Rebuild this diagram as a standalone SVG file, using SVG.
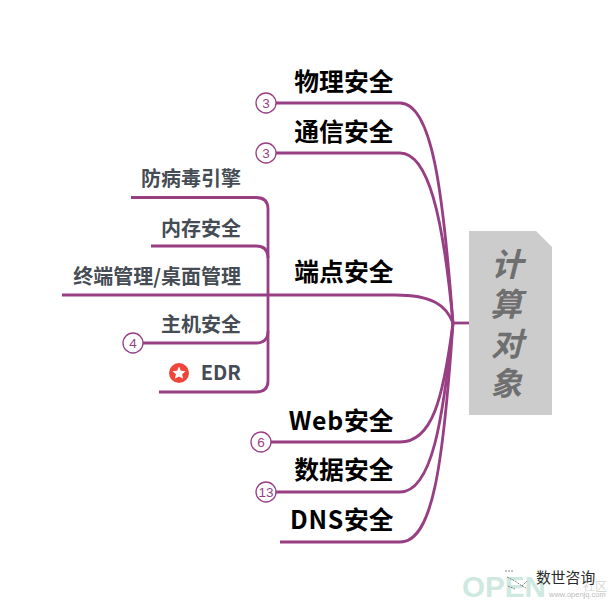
<svg xmlns="http://www.w3.org/2000/svg" width="615" height="606" viewBox="0 0 615 606">
<style>
.c{fill:none;stroke:#983f84;stroke-width:2.8;stroke-linecap:butt}
.t{font-family:"Noto Sans CJK SC","Noto Sans",sans-serif;font-weight:700;font-size:24.800px;fill:#000;text-anchor:end}
.s{font-family:"Noto Sans CJK SC","Noto Sans",sans-serif;font-weight:700;font-size:20px;fill:#454c54;text-anchor:end}
.b{fill:#fff;stroke:#983f84;stroke-width:1.3}
.n{font-family:"Liberation Sans",sans-serif;font-size:13.500px;fill:#983f84;text-anchor:middle}
.r{font-family:"Noto Sans CJK SC",sans-serif;font-weight:700;font-style:italic;font-size:32px;fill:#6f6f6f;text-anchor:middle}
</style>
<rect width="615" height="606" fill="#fff"/>
<g id="connectors">
<path class="c" d="M276 103H400C432 103 443 190 453 323"/>
<path class="c" d="M276 153H400C428 153 443 215 453 323"/>
<path class="c" d="M62 295H395C432 295 446 305 453 323"/>
<path class="c" d="M270 442H400C432 442 443 400 453 323"/>
<path class="c" d="M276 492H400C432 492 443 420 453 323"/>
<path class="c" d="M280 542H400C432 542 443 470 453 323"/>
<path class="c" d="M453 323H469"/>
<path class="c" d="M131 197.500H256Q268 197.500 268 209V381Q268 392 256 392H159"/>
<path class="c" d="M151 246H256Q268 246 268 258"/>
<path class="c" d="M143 343H256Q268 343 268 331"/>
</g>
<g id="root"><path d="M469 231H536L552 247V415H469Z" fill="#cccccc"/>
<text class="r"><tspan x="507" y="276">计</tspan><tspan x="506" y="316">算</tspan><tspan x="507" y="356">对</tspan><tspan x="506" y="395">象</tspan></text></g>
<g id="n1"><text class="t" x="393.500" y="91">物理安全</text><circle class="b" cx="266" cy="103" r="10"/><text class="n" x="266" y="108">3</text></g>
<g id="n2"><text class="t" x="393.500" y="141">通信安全</text><circle class="b" cx="266" cy="153" r="10"/><text class="n" x="266" y="158">3</text></g>
<g id="n3"><text class="t" x="393.500" y="281">端点安全</text></g>
<g id="n4"><text class="t" x="393.500" y="430"><tspan letter-spacing=".7">Web</tspan>安全</text><circle class="b" cx="261" cy="442" r="10"/><text class="n" x="261" y="447">6</text></g>
<g id="n5"><text class="t" x="393.500" y="479">数据安全</text><circle class="b" cx="266" cy="492" r="10"/><text class="n" x="266" y="497">13</text></g>
<g id="n6"><text class="t" x="393.500" y="529"><tspan letter-spacing=".7">DNS</tspan>安全</text></g>
<g id="s1"><text class="s" x="241" y="186">防病毒引擎</text></g>
<g id="s2"><text class="s" x="241" y="236">内存安全</text></g>
<g id="s3"><text class="s" x="241" y="284">终端管理/桌面管理</text></g>
<g id="s4"><text class="s" x="241" y="332">主机安全</text><circle class="b" cx="133" cy="343" r="10"/><text class="n" x="133" y="348">4</text></g>
<g id="s5"><circle cx="179" cy="373" r="10" fill="#f0453a"/><path d="M179 366.500l1.900 4.200 4.600.5-3.400 3.100 1 4.500-4.100-2.300-4.100 2.300 1-4.500-3.400-3.100 4.600-.5z" fill="#fff"/><text class="s" x="241" y="380" font-size="19.500">EDR</text></g>
<g id="watermark">
<text x="462" y="597" font-family="Liberation Sans,sans-serif" font-weight="700" font-size="29" textLength="84" lengthAdjust="spacingAndGlyphs" fill="#cfe9e0">OPEN</text>
<text x="583" y="591" font-family="Noto Sans CJK SC,sans-serif" font-size="12" fill="#d8d8d8">社区</text>
<text x="549" y="597" font-family="Liberation Sans,sans-serif" font-size="7.500" fill="#bdbdbd">www.openjq.com</text>
<text x="536" y="583" font-family="Noto Sans CJK SC,sans-serif" font-size="14.800" fill="#2a2a2a">数世咨询</text>
<path d="M505 571h9M507 577l8 4 7 5M508 586l7 3M522 586l5-5M522 586l4 2" fill="none" stroke="#555" stroke-width=".7" stroke-dasharray="2 1"/>
</g>
</svg>
